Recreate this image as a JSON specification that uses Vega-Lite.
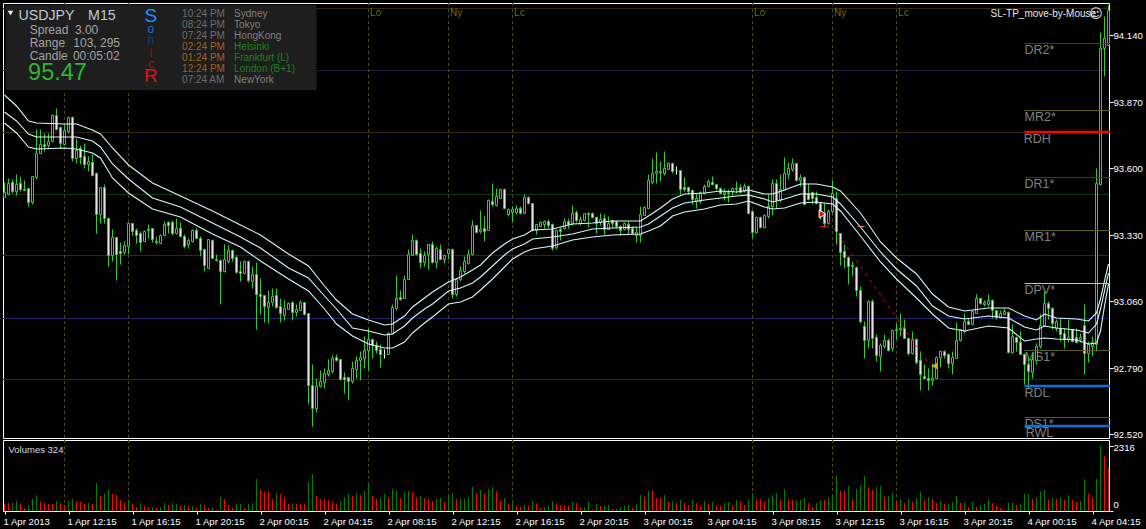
{
"$schema":"https://vega.github.io/schema/vega-lite/v6.json",
"background":"#000000",
"padding":{"left":1,"top":2,"right":1,"bottom":2},
"spacing":2,
"bounds":"flush",
"config":{"view":{"stroke":"#ffffff","strokeWidth":1,"fill":"#000000"},"axis":{"grid":false,"title":null,"domain":false,"tickColor":"#ffffff","labelColor":"#ffffff","labelFont":"Liberation Sans","labelFontSize":9.6}},
"datasets":{
"bars":[
{"i":0,"o":93.482,"h":93.543,"l":93.482,"c":93.503,"v":285,"d":"r"},
{"i":1,"o":93.494,"h":93.559,"l":93.490,"c":93.539,"v":285,"d":"r"},
{"i":2,"o":93.543,"h":93.555,"l":93.498,"c":93.507,"v":285,"d":"g"},
{"i":3,"o":93.507,"h":93.576,"l":93.490,"c":93.535,"v":356,"d":"g"},
{"i":4,"o":93.539,"h":93.567,"l":93.507,"c":93.515,"v":249,"d":"r"},
{"i":5,"o":93.515,"h":93.551,"l":93.511,"c":93.511,"v":107,"d":"r"},
{"i":6,"o":93.519,"h":93.519,"l":93.446,"c":93.462,"v":214,"d":"g"},
{"i":7,"o":93.462,"h":93.567,"l":93.454,"c":93.567,"v":427,"d":"g"},
{"i":8,"o":93.563,"h":93.758,"l":93.555,"c":93.661,"v":570,"d":"g"},
{"i":9,"o":93.661,"h":93.758,"l":93.661,"c":93.697,"v":356,"d":"r"},
{"i":10,"o":93.697,"h":93.742,"l":93.669,"c":93.689,"v":285,"d":"r"},
{"i":11,"o":93.693,"h":93.742,"l":93.677,"c":93.710,"v":249,"d":"r"},
{"i":12,"o":93.710,"h":93.819,"l":93.706,"c":93.815,"v":249,"d":"r"},
{"i":13,"o":93.815,"h":93.844,"l":93.754,"c":93.758,"v":356,"d":"g"},
{"i":14,"o":93.766,"h":93.770,"l":93.681,"c":93.701,"v":285,"d":"r"},
{"i":15,"o":93.697,"h":93.779,"l":93.693,"c":93.754,"v":214,"d":"r"},
{"i":16,"o":93.750,"h":93.811,"l":93.742,"c":93.807,"v":356,"d":"g"},
{"i":17,"o":93.807,"h":93.811,"l":93.628,"c":93.641,"v":427,"d":"g"},
{"i":18,"o":93.641,"h":93.722,"l":93.620,"c":93.673,"v":356,"d":"r"},
{"i":19,"o":93.681,"h":93.693,"l":93.616,"c":93.645,"v":320,"d":"r"},
{"i":20,"o":93.649,"h":93.701,"l":93.600,"c":93.616,"v":249,"d":"r"},
{"i":21,"o":93.616,"h":93.649,"l":93.588,"c":93.628,"v":285,"d":"g"},
{"i":22,"o":93.624,"h":93.657,"l":93.567,"c":93.571,"v":249,"d":"r"},
{"i":23,"o":93.580,"h":93.584,"l":93.336,"c":93.413,"v":997,"d":"g"},
{"i":24,"o":93.413,"h":93.523,"l":93.377,"c":93.523,"v":534,"d":"r"},
{"i":25,"o":93.523,"h":93.535,"l":93.377,"c":93.397,"v":605,"d":"g"},
{"i":26,"o":93.397,"h":93.401,"l":93.202,"c":93.247,"v":748,"d":"g"},
{"i":27,"o":93.247,"h":93.352,"l":93.222,"c":93.320,"v":605,"d":"r"},
{"i":28,"o":93.320,"h":93.320,"l":93.145,"c":93.251,"v":570,"d":"r"},
{"i":29,"o":93.263,"h":93.300,"l":93.210,"c":93.255,"v":392,"d":"r"},
{"i":30,"o":93.259,"h":93.304,"l":93.251,"c":93.287,"v":285,"d":"r"},
{"i":31,"o":93.283,"h":93.381,"l":93.251,"c":93.377,"v":392,"d":"g"},
{"i":32,"o":93.377,"h":93.377,"l":93.328,"c":93.344,"v":249,"d":"r"},
{"i":33,"o":93.348,"h":93.356,"l":93.296,"c":93.328,"v":142,"d":"r"},
{"i":34,"o":93.336,"h":93.344,"l":93.263,"c":93.300,"v":285,"d":"g"},
{"i":35,"o":93.304,"h":93.348,"l":93.304,"c":93.344,"v":178,"d":"r"},
{"i":36,"o":93.352,"h":93.373,"l":93.316,"c":93.348,"v":142,"d":"r"},
{"i":37,"o":93.356,"h":93.356,"l":93.300,"c":93.312,"v":142,"d":"g"},
{"i":38,"o":93.304,"h":93.324,"l":93.291,"c":93.300,"v":107,"d":"r"},
{"i":39,"o":93.296,"h":93.332,"l":93.296,"c":93.328,"v":142,"d":"g"},
{"i":40,"o":93.328,"h":93.385,"l":93.324,"c":93.373,"v":285,"d":"g"},
{"i":41,"o":93.381,"h":93.385,"l":93.336,"c":93.369,"v":214,"d":"r"},
{"i":42,"o":93.381,"h":93.389,"l":93.328,"c":93.336,"v":285,"d":"g"},
{"i":43,"o":93.336,"h":93.397,"l":93.332,"c":93.356,"v":249,"d":"g"},
{"i":44,"o":93.356,"h":93.381,"l":93.320,"c":93.324,"v":178,"d":"r"},
{"i":45,"o":93.324,"h":93.332,"l":93.275,"c":93.283,"v":214,"d":"g"},
{"i":46,"o":93.291,"h":93.316,"l":93.275,"c":93.308,"v":178,"d":"r"},
{"i":47,"o":93.304,"h":93.352,"l":93.300,"c":93.348,"v":178,"d":"g"},
{"i":48,"o":93.348,"h":93.356,"l":93.316,"c":93.316,"v":107,"d":"r"},
{"i":49,"o":93.316,"h":93.324,"l":93.243,"c":93.267,"v":249,"d":"g"},
{"i":50,"o":93.271,"h":93.275,"l":93.182,"c":93.206,"v":214,"d":"r"},
{"i":51,"o":93.194,"h":93.312,"l":93.194,"c":93.312,"v":107,"d":"r"},
{"i":52,"o":93.308,"h":93.312,"l":93.235,"c":93.235,"v":142,"d":"g"},
{"i":53,"o":93.231,"h":93.251,"l":93.222,"c":93.226,"v":36,"d":"r"},
{"i":54,"o":93.226,"h":93.231,"l":93.048,"c":93.182,"v":498,"d":"g"},
{"i":55,"o":93.182,"h":93.291,"l":93.178,"c":93.231,"v":427,"d":"r"},
{"i":56,"o":93.222,"h":93.287,"l":93.214,"c":93.267,"v":214,"d":"r"},
{"i":57,"o":93.267,"h":93.271,"l":93.222,"c":93.235,"v":107,"d":"r"},
{"i":58,"o":93.239,"h":93.247,"l":93.174,"c":93.178,"v":249,"d":"g"},
{"i":59,"o":93.182,"h":93.222,"l":93.141,"c":93.174,"v":249,"d":"g"},
{"i":60,"o":93.174,"h":93.226,"l":93.170,"c":93.222,"v":107,"d":"r"},
{"i":61,"o":93.222,"h":93.226,"l":93.137,"c":93.145,"v":249,"d":"g"},
{"i":62,"o":93.141,"h":93.202,"l":93.113,"c":93.170,"v":285,"d":"g"},
{"i":63,"o":93.170,"h":93.218,"l":92.946,"c":93.088,"v":1139,"d":"g"},
{"i":64,"o":93.088,"h":93.153,"l":93.007,"c":93.080,"v":748,"d":"r"},
{"i":65,"o":93.084,"h":93.084,"l":92.975,"c":93.040,"v":676,"d":"r"},
{"i":66,"o":93.036,"h":93.105,"l":92.971,"c":93.056,"v":712,"d":"r"},
{"i":67,"o":93.056,"h":93.113,"l":93.040,"c":93.080,"v":427,"d":"r"},
{"i":68,"o":93.084,"h":93.113,"l":93.032,"c":93.036,"v":641,"d":"g"},
{"i":69,"o":93.040,"h":93.072,"l":92.975,"c":93.011,"v":605,"d":"r"},
{"i":70,"o":93.003,"h":93.064,"l":92.983,"c":93.032,"v":498,"d":"r"},
{"i":71,"o":93.028,"h":93.056,"l":93.028,"c":93.052,"v":249,"d":"r"},
{"i":72,"o":93.056,"h":93.060,"l":92.983,"c":93.015,"v":285,"d":"g"},
{"i":73,"o":93.015,"h":93.048,"l":92.999,"c":93.028,"v":249,"d":"r"},
{"i":74,"o":93.023,"h":93.064,"l":93.023,"c":93.056,"v":249,"d":"r"},
{"i":75,"o":93.056,"h":93.056,"l":93.003,"c":93.007,"v":249,"d":"r"},
{"i":76,"o":93.011,"h":93.011,"l":92.642,"c":92.719,"v":1032,"d":"g"},
{"i":77,"o":92.719,"h":92.804,"l":92.553,"c":92.626,"v":1317,"d":"g"},
{"i":78,"o":92.626,"h":92.747,"l":92.609,"c":92.715,"v":534,"d":"r"},
{"i":79,"o":92.715,"h":92.780,"l":92.711,"c":92.735,"v":427,"d":"r"},
{"i":80,"o":92.731,"h":92.788,"l":92.707,"c":92.768,"v":427,"d":"r"},
{"i":81,"o":92.764,"h":92.825,"l":92.755,"c":92.780,"v":392,"d":"r"},
{"i":82,"o":92.776,"h":92.841,"l":92.768,"c":92.829,"v":356,"d":"r"},
{"i":83,"o":92.833,"h":92.845,"l":92.816,"c":92.820,"v":249,"d":"r"},
{"i":84,"o":92.825,"h":92.825,"l":92.739,"c":92.743,"v":356,"d":"g"},
{"i":85,"o":92.751,"h":92.772,"l":92.686,"c":92.743,"v":498,"d":"g"},
{"i":86,"o":92.751,"h":92.751,"l":92.658,"c":92.735,"v":605,"d":"g"},
{"i":87,"o":92.735,"h":92.816,"l":92.727,"c":92.788,"v":534,"d":"r"},
{"i":88,"o":92.784,"h":92.837,"l":92.747,"c":92.820,"v":641,"d":"g"},
{"i":89,"o":92.820,"h":92.857,"l":92.739,"c":92.833,"v":570,"d":"r"},
{"i":90,"o":92.829,"h":92.918,"l":92.788,"c":92.861,"v":712,"d":"g"},
{"i":91,"o":92.861,"h":92.950,"l":92.780,"c":92.906,"v":997,"d":"g"},
{"i":92,"o":92.906,"h":92.910,"l":92.829,"c":92.881,"v":534,"d":"r"},
{"i":93,"o":92.881,"h":92.898,"l":92.849,"c":92.861,"v":427,"d":"r"},
{"i":94,"o":92.865,"h":92.885,"l":92.792,"c":92.845,"v":498,"d":"g"},
{"i":95,"o":92.845,"h":92.865,"l":92.829,"c":92.845,"v":605,"d":"g"},
{"i":96,"o":92.845,"h":92.934,"l":92.845,"c":92.930,"v":463,"d":"r"},
{"i":97,"o":92.930,"h":93.048,"l":92.926,"c":93.036,"v":783,"d":"g"},
{"i":98,"o":93.032,"h":93.166,"l":93.023,"c":93.072,"v":712,"d":"g"},
{"i":99,"o":93.076,"h":93.105,"l":93.064,"c":93.068,"v":463,"d":"r"},
{"i":100,"o":93.072,"h":93.166,"l":93.072,"c":93.149,"v":676,"d":"g"},
{"i":101,"o":93.149,"h":93.271,"l":93.149,"c":93.251,"v":712,"d":"g"},
{"i":102,"o":93.247,"h":93.332,"l":93.247,"c":93.308,"v":676,"d":"r"},
{"i":103,"o":93.308,"h":93.312,"l":93.247,"c":93.251,"v":498,"d":"r"},
{"i":104,"o":93.255,"h":93.275,"l":93.194,"c":93.218,"v":534,"d":"g"},
{"i":105,"o":93.218,"h":93.263,"l":93.202,"c":93.247,"v":463,"d":"r"},
{"i":106,"o":93.251,"h":93.291,"l":93.190,"c":93.291,"v":427,"d":"r"},
{"i":107,"o":93.291,"h":93.304,"l":93.214,"c":93.218,"v":356,"d":"r"},
{"i":108,"o":93.218,"h":93.283,"l":93.194,"c":93.275,"v":427,"d":"g"},
{"i":109,"o":93.271,"h":93.291,"l":93.231,"c":93.231,"v":463,"d":"g"},
{"i":110,"o":93.231,"h":93.251,"l":93.214,"c":93.247,"v":320,"d":"r"},
{"i":111,"o":93.255,"h":93.275,"l":93.231,"c":93.271,"v":534,"d":"g"},
{"i":112,"o":93.271,"h":93.275,"l":93.072,"c":93.088,"v":641,"d":"g"},
{"i":113,"o":93.088,"h":93.149,"l":93.080,"c":93.149,"v":427,"d":"r"},
{"i":114,"o":93.149,"h":93.202,"l":93.141,"c":93.186,"v":427,"d":"g"},
{"i":115,"o":93.182,"h":93.243,"l":93.174,"c":93.222,"v":427,"d":"g"},
{"i":116,"o":93.214,"h":93.271,"l":93.210,"c":93.251,"v":498,"d":"g"},
{"i":117,"o":93.251,"h":93.389,"l":93.247,"c":93.369,"v":854,"d":"g"},
{"i":118,"o":93.369,"h":93.369,"l":93.336,"c":93.340,"v":641,"d":"r"},
{"i":119,"o":93.344,"h":93.429,"l":93.336,"c":93.352,"v":748,"d":"g"},
{"i":120,"o":93.356,"h":93.405,"l":93.304,"c":93.344,"v":605,"d":"r"},
{"i":121,"o":93.348,"h":93.474,"l":93.348,"c":93.470,"v":783,"d":"g"},
{"i":122,"o":93.466,"h":93.539,"l":93.446,"c":93.454,"v":854,"d":"g"},
{"i":123,"o":93.450,"h":93.519,"l":93.446,"c":93.486,"v":712,"d":"r"},
{"i":124,"o":93.478,"h":93.519,"l":93.478,"c":93.515,"v":392,"d":"r"},
{"i":125,"o":93.515,"h":93.519,"l":93.433,"c":93.438,"v":463,"d":"g"},
{"i":126,"o":93.413,"h":93.438,"l":93.405,"c":93.433,"v":249,"d":"r"},
{"i":127,"o":93.421,"h":93.446,"l":93.381,"c":93.433,"v":356,"d":"g"},
{"i":128,"o":93.421,"h":93.450,"l":93.413,"c":93.438,"v":178,"d":"r"},
{"i":129,"o":93.438,"h":93.446,"l":93.413,"c":93.417,"v":142,"d":"r"},
{"i":130,"o":93.417,"h":93.494,"l":93.417,"c":93.482,"v":214,"d":"g"},
{"i":131,"o":93.482,"h":93.486,"l":93.454,"c":93.458,"v":178,"d":"r"},
{"i":132,"o":93.458,"h":93.458,"l":93.344,"c":93.348,"v":356,"d":"g"},
{"i":133,"o":93.348,"h":93.373,"l":93.332,"c":93.373,"v":249,"d":"r"},
{"i":134,"o":93.365,"h":93.385,"l":93.360,"c":93.381,"v":107,"d":"r"},
{"i":135,"o":93.373,"h":93.389,"l":93.356,"c":93.385,"v":142,"d":"g"},
{"i":136,"o":93.385,"h":93.393,"l":93.356,"c":93.369,"v":178,"d":"g"},
{"i":137,"o":93.373,"h":93.377,"l":93.267,"c":93.275,"v":356,"d":"g"},
{"i":138,"o":93.279,"h":93.352,"l":93.271,"c":93.348,"v":249,"d":"r"},
{"i":139,"o":93.352,"h":93.360,"l":93.308,"c":93.344,"v":214,"d":"r"},
{"i":140,"o":93.356,"h":93.397,"l":93.352,"c":93.385,"v":178,"d":"r"},
{"i":141,"o":93.385,"h":93.397,"l":93.356,"c":93.373,"v":178,"d":"r"},
{"i":142,"o":93.377,"h":93.450,"l":93.369,"c":93.417,"v":320,"d":"g"},
{"i":143,"o":93.421,"h":93.429,"l":93.381,"c":93.389,"v":285,"d":"r"},
{"i":144,"o":93.377,"h":93.405,"l":93.369,"c":93.393,"v":142,"d":"r"},
{"i":145,"o":93.389,"h":93.417,"l":93.385,"c":93.417,"v":142,"d":"g"},
{"i":146,"o":93.417,"h":93.421,"l":93.360,"c":93.413,"v":320,"d":"g"},
{"i":147,"o":93.417,"h":93.421,"l":93.397,"c":93.401,"v":36,"d":"r"},
{"i":148,"o":93.401,"h":93.405,"l":93.336,"c":93.377,"v":249,"d":"g"},
{"i":149,"o":93.381,"h":93.417,"l":93.369,"c":93.393,"v":178,"d":"r"},
{"i":150,"o":93.397,"h":93.413,"l":93.332,"c":93.352,"v":178,"d":"g"},
{"i":151,"o":93.352,"h":93.405,"l":93.352,"c":93.377,"v":214,"d":"g"},
{"i":152,"o":93.389,"h":93.393,"l":93.360,"c":93.377,"v":71,"d":"r"},
{"i":153,"o":93.385,"h":93.389,"l":93.356,"c":93.365,"v":71,"d":"g"},
{"i":154,"o":93.365,"h":93.369,"l":93.328,"c":93.348,"v":142,"d":"g"},
{"i":155,"o":93.352,"h":93.381,"l":93.348,"c":93.377,"v":178,"d":"g"},
{"i":156,"o":93.373,"h":93.385,"l":93.332,"c":93.352,"v":214,"d":"g"},
{"i":157,"o":93.356,"h":93.365,"l":93.332,"c":93.336,"v":107,"d":"r"},
{"i":158,"o":93.328,"h":93.360,"l":93.300,"c":93.340,"v":249,"d":"g"},
{"i":159,"o":93.328,"h":93.446,"l":93.300,"c":93.413,"v":570,"d":"g"},
{"i":160,"o":93.409,"h":93.446,"l":93.409,"c":93.442,"v":498,"d":"r"},
{"i":161,"o":93.438,"h":93.576,"l":93.438,"c":93.551,"v":712,"d":"g"},
{"i":162,"o":93.543,"h":93.641,"l":93.535,"c":93.580,"v":712,"d":"r"},
{"i":163,"o":93.580,"h":93.665,"l":93.539,"c":93.588,"v":463,"d":"r"},
{"i":164,"o":93.584,"h":93.628,"l":93.547,"c":93.588,"v":463,"d":"r"},
{"i":165,"o":93.580,"h":93.669,"l":93.571,"c":93.600,"v":570,"d":"g"},
{"i":166,"o":93.596,"h":93.624,"l":93.596,"c":93.620,"v":320,"d":"r"},
{"i":167,"o":93.620,"h":93.624,"l":93.580,"c":93.588,"v":356,"d":"g"},
{"i":168,"o":93.590,"h":93.608,"l":93.576,"c":93.590,"v":285,"d":"r"},
{"i":169,"o":93.592,"h":93.592,"l":93.494,"c":93.515,"v":392,"d":"g"},
{"i":170,"o":93.523,"h":93.563,"l":93.507,"c":93.515,"v":285,"d":"r"},
{"i":171,"o":93.523,"h":93.527,"l":93.494,"c":93.507,"v":214,"d":"r"},
{"i":172,"o":93.511,"h":93.515,"l":93.454,"c":93.474,"v":392,"d":"g"},
{"i":173,"o":93.466,"h":93.498,"l":93.438,"c":93.478,"v":285,"d":"r"},
{"i":174,"o":93.466,"h":93.507,"l":93.458,"c":93.503,"v":178,"d":"r"},
{"i":175,"o":93.498,"h":93.535,"l":93.494,"c":93.527,"v":356,"d":"g"},
{"i":176,"o":93.527,"h":93.555,"l":93.523,"c":93.547,"v":249,"d":"r"},
{"i":177,"o":93.543,"h":93.567,"l":93.531,"c":93.535,"v":320,"d":"g"},
{"i":178,"o":93.535,"h":93.535,"l":93.511,"c":93.519,"v":178,"d":"r"},
{"i":179,"o":93.519,"h":93.523,"l":93.494,"c":93.498,"v":178,"d":"r"},
{"i":180,"o":93.494,"h":93.519,"l":93.470,"c":93.503,"v":285,"d":"g"},
{"i":181,"o":93.498,"h":93.515,"l":93.462,"c":93.503,"v":320,"d":"g"},
{"i":182,"o":93.507,"h":93.523,"l":93.486,"c":93.519,"v":178,"d":"r"},
{"i":183,"o":93.515,"h":93.547,"l":93.498,"c":93.519,"v":392,"d":"g"},
{"i":184,"o":93.523,"h":93.535,"l":93.498,"c":93.503,"v":356,"d":"r"},
{"i":185,"o":93.507,"h":93.539,"l":93.503,"c":93.527,"v":214,"d":"r"},
{"i":186,"o":93.527,"h":93.531,"l":93.413,"c":93.417,"v":392,"d":"g"},
{"i":187,"o":93.425,"h":93.429,"l":93.316,"c":93.340,"v":641,"d":"g"},
{"i":188,"o":93.340,"h":93.405,"l":93.336,"c":93.401,"v":427,"d":"r"},
{"i":189,"o":93.401,"h":93.405,"l":93.356,"c":93.360,"v":427,"d":"r"},
{"i":190,"o":93.360,"h":93.413,"l":93.356,"c":93.409,"v":320,"d":"r"},
{"i":191,"o":93.405,"h":93.494,"l":93.397,"c":93.446,"v":463,"d":"g"},
{"i":192,"o":93.446,"h":93.555,"l":93.409,"c":93.539,"v":570,"d":"g"},
{"i":193,"o":93.539,"h":93.555,"l":93.438,"c":93.470,"v":641,"d":"g"},
{"i":194,"o":93.470,"h":93.576,"l":93.462,"c":93.515,"v":392,"d":"r"},
{"i":195,"o":93.515,"h":93.645,"l":93.511,"c":93.580,"v":783,"d":"g"},
{"i":196,"o":93.576,"h":93.624,"l":93.555,"c":93.600,"v":427,"d":"r"},
{"i":197,"o":93.596,"h":93.641,"l":93.588,"c":93.620,"v":392,"d":"r"},
{"i":198,"o":93.620,"h":93.620,"l":93.547,"c":93.551,"v":392,"d":"g"},
{"i":199,"o":93.551,"h":93.576,"l":93.527,"c":93.563,"v":392,"d":"g"},
{"i":200,"o":93.563,"h":93.567,"l":93.450,"c":93.454,"v":463,"d":"g"},
{"i":201,"o":93.498,"h":93.539,"l":93.470,"c":93.474,"v":285,"d":"r"},
{"i":202,"o":93.503,"h":93.507,"l":93.454,"c":93.478,"v":142,"d":"r"},
{"i":203,"o":93.482,"h":93.507,"l":93.454,"c":93.458,"v":285,"d":"g"},
{"i":204,"o":93.458,"h":93.462,"l":93.393,"c":93.413,"v":392,"d":"g"},
{"i":205,"o":93.413,"h":93.458,"l":93.360,"c":93.377,"v":392,"d":"r"},
{"i":206,"o":93.377,"h":93.433,"l":93.373,"c":93.425,"v":498,"d":"g"},
{"i":207,"o":93.425,"h":93.551,"l":93.417,"c":93.498,"v":570,"d":"g"},
{"i":208,"o":93.478,"h":93.507,"l":93.291,"c":93.344,"v":1282,"d":"g"},
{"i":209,"o":93.336,"h":93.336,"l":93.206,"c":93.259,"v":712,"d":"r"},
{"i":210,"o":93.263,"h":93.291,"l":93.194,"c":93.239,"v":712,"d":"r"},
{"i":211,"o":93.239,"h":93.243,"l":93.129,"c":93.202,"v":890,"d":"g"},
{"i":212,"o":93.206,"h":93.222,"l":93.161,"c":93.202,"v":427,"d":"r"},
{"i":213,"o":93.198,"h":93.202,"l":93.080,"c":93.105,"v":783,"d":"g"},
{"i":214,"o":93.105,"h":93.121,"l":92.971,"c":92.979,"v":890,"d":"g"},
{"i":215,"o":92.958,"h":92.979,"l":92.829,"c":92.902,"v":1246,"d":"g"},
{"i":216,"o":92.902,"h":93.064,"l":92.869,"c":93.060,"v":854,"d":"r"},
{"i":217,"o":93.060,"h":93.068,"l":92.869,"c":92.910,"v":748,"d":"r"},
{"i":218,"o":92.914,"h":92.926,"l":92.816,"c":92.841,"v":854,"d":"g"},
{"i":219,"o":92.837,"h":92.890,"l":92.776,"c":92.881,"v":890,"d":"g"},
{"i":220,"o":92.877,"h":92.926,"l":92.869,"c":92.902,"v":498,"d":"r"},
{"i":221,"o":92.902,"h":92.910,"l":92.857,"c":92.861,"v":534,"d":"g"},
{"i":222,"o":92.869,"h":92.946,"l":92.857,"c":92.942,"v":641,"d":"g"},
{"i":223,"o":92.946,"h":92.971,"l":92.906,"c":92.942,"v":356,"d":"r"},
{"i":224,"o":92.946,"h":93.011,"l":92.918,"c":92.950,"v":427,"d":"g"},
{"i":225,"o":92.950,"h":92.987,"l":92.910,"c":92.910,"v":285,"d":"r"},
{"i":226,"o":92.910,"h":92.914,"l":92.841,"c":92.849,"v":427,"d":"g"},
{"i":227,"o":92.849,"h":92.938,"l":92.845,"c":92.906,"v":320,"d":"r"},
{"i":228,"o":92.906,"h":92.910,"l":92.804,"c":92.812,"v":463,"d":"g"},
{"i":229,"o":92.820,"h":92.857,"l":92.699,"c":92.764,"v":676,"d":"g"},
{"i":230,"o":92.755,"h":92.804,"l":92.743,"c":92.747,"v":392,"d":"r"},
{"i":231,"o":92.747,"h":92.788,"l":92.699,"c":92.739,"v":498,"d":"g"},
{"i":232,"o":92.739,"h":92.808,"l":92.719,"c":92.747,"v":427,"d":"r"},
{"i":233,"o":92.747,"h":92.837,"l":92.747,"c":92.833,"v":285,"d":"r"},
{"i":234,"o":92.833,"h":92.861,"l":92.792,"c":92.857,"v":356,"d":"g"},
{"i":235,"o":92.857,"h":92.861,"l":92.829,"c":92.841,"v":249,"d":"r"},
{"i":236,"o":92.845,"h":92.849,"l":92.788,"c":92.808,"v":249,"d":"g"},
{"i":237,"o":92.808,"h":92.857,"l":92.764,"c":92.833,"v":320,"d":"g"},
{"i":238,"o":92.829,"h":92.975,"l":92.829,"c":92.902,"v":534,"d":"g"},
{"i":239,"o":92.902,"h":92.946,"l":92.898,"c":92.946,"v":285,"d":"r"},
{"i":240,"o":92.938,"h":93.011,"l":92.930,"c":92.979,"v":285,"d":"g"},
{"i":241,"o":92.979,"h":92.991,"l":92.967,"c":92.967,"v":142,"d":"r"},
{"i":242,"o":92.967,"h":93.023,"l":92.963,"c":93.019,"v":320,"d":"g"},
{"i":243,"o":93.011,"h":93.088,"l":93.011,"c":93.072,"v":142,"d":"r"},
{"i":244,"o":93.072,"h":93.072,"l":93.048,"c":93.052,"v":214,"d":"g"},
{"i":245,"o":93.048,"h":93.064,"l":93.040,"c":93.056,"v":249,"d":"g"},
{"i":246,"o":93.048,"h":93.088,"l":93.040,"c":93.064,"v":427,"d":"g"},
{"i":247,"o":93.064,"h":93.068,"l":92.991,"c":93.023,"v":285,"d":"r"},
{"i":248,"o":93.023,"h":93.023,"l":92.987,"c":92.995,"v":178,"d":"r"},
{"i":249,"o":92.995,"h":93.023,"l":92.991,"c":93.011,"v":107,"d":"r"},
{"i":250,"o":93.007,"h":93.032,"l":93.003,"c":93.019,"v":36,"d":"r"},
{"i":251,"o":93.015,"h":93.019,"l":92.849,"c":92.853,"v":285,"d":"g"},
{"i":252,"o":92.853,"h":92.967,"l":92.849,"c":92.918,"v":285,"d":"g"},
{"i":253,"o":92.914,"h":92.918,"l":92.857,"c":92.894,"v":214,"d":"r"},
{"i":254,"o":92.894,"h":92.938,"l":92.845,"c":92.845,"v":249,"d":"g"},
{"i":255,"o":92.845,"h":92.849,"l":92.723,"c":92.804,"v":605,"d":"g"},
{"i":256,"o":92.804,"h":92.837,"l":92.707,"c":92.776,"v":605,"d":"g"},
{"i":257,"o":92.772,"h":92.849,"l":92.747,"c":92.825,"v":427,"d":"r"},
{"i":258,"o":92.820,"h":92.890,"l":92.804,"c":92.877,"v":498,"d":"g"},
{"i":259,"o":92.877,"h":93.007,"l":92.869,"c":92.963,"v":676,"d":"g"},
{"i":260,"o":92.963,"h":93.101,"l":92.958,"c":93.052,"v":748,"d":"g"},
{"i":261,"o":93.052,"h":93.060,"l":92.987,"c":93.032,"v":392,"d":"r"},
{"i":262,"o":93.032,"h":93.036,"l":92.946,"c":92.971,"v":463,"d":"g"},
{"i":263,"o":92.950,"h":92.987,"l":92.938,"c":92.979,"v":427,"d":"r"},
{"i":264,"o":92.950,"h":92.991,"l":92.898,"c":92.926,"v":498,"d":"g"},
{"i":265,"o":92.930,"h":92.950,"l":92.869,"c":92.906,"v":392,"d":"r"},
{"i":266,"o":92.906,"h":92.987,"l":92.894,"c":92.914,"v":570,"d":"g"},
{"i":267,"o":92.946,"h":92.946,"l":92.894,"c":92.898,"v":392,"d":"r"},
{"i":268,"o":92.914,"h":92.950,"l":92.890,"c":92.894,"v":320,"d":"r"},
{"i":269,"o":92.906,"h":92.930,"l":92.894,"c":92.914,"v":356,"d":"g"},
{"i":270,"o":92.963,"h":93.048,"l":92.764,"c":92.849,"v":1139,"d":"g"},
{"i":271,"o":92.849,"h":92.898,"l":92.812,"c":92.885,"v":605,"d":"r"},
{"i":272,"o":92.877,"h":92.918,"l":92.837,"c":92.894,"v":463,"d":"r"},
{"i":273,"o":92.885,"h":93.600,"l":92.857,"c":93.539,"v":1139,"d":"g"},
{"i":274,"o":93.535,"h":94.152,"l":93.531,"c":94.087,"v":2316,"d":"g"},
{"i":275,"o":94.087,"h":94.217,"l":93.974,"c":94.128,"v":1958,"d":"r"},
{"i":276,"o":94.099,"h":94.262,"l":94.099,"c":94.241,"v":1531,"d":"r"}
],
"bands":[
{"i":0,"u":93.896,"m":93.827,"w":93.783},{"i":3,"u":93.852,"m":93.791,"w":93.742},{"i":6,"u":93.791,"m":93.738,"w":93.685},{"i":8,"u":93.783,"m":93.726,"w":93.677},{"i":15,"u":93.779,"m":93.726,"w":93.681},{"i":18,"u":93.779,"m":93.726,"w":93.677},{"i":22,"u":93.754,"m":93.710,"w":93.661},{"i":24,"u":93.738,"m":93.685,"w":93.641},{"i":27,"u":93.681,"m":93.616,"w":93.559},{"i":31,"u":93.612,"m":93.555,"w":93.498},{"i":37,"u":93.539,"m":93.478,"w":93.433},{"i":44,"u":93.486,"m":93.442,"w":93.401},{"i":52,"u":93.425,"m":93.377,"w":93.332},{"i":59,"u":93.369,"m":93.320,"w":93.279},{"i":64,"u":93.328,"m":93.275,"w":93.222},{"i":71,"u":93.251,"m":93.194,"w":93.149},{"i":76,"u":93.202,"m":93.153,"w":93.101},{"i":80,"u":93.121,"m":93.080,"w":93.028},{"i":83,"u":93.064,"m":93.028,"w":92.967},{"i":87,"u":93.007,"m":92.950,"w":92.918},{"i":91,"u":92.983,"m":92.938,"w":92.885},{"i":95,"u":92.963,"m":92.922,"w":92.869},{"i":97,"u":92.967,"m":92.926,"w":92.869},{"i":100,"u":92.999,"m":92.958,"w":92.894},{"i":102,"u":93.036,"m":92.991,"w":92.930},{"i":105,"u":93.072,"m":93.028,"w":92.971},{"i":107,"u":93.097,"m":93.048,"w":92.995},{"i":111,"u":93.137,"m":93.101,"w":93.048},{"i":114,"u":93.157,"m":93.113,"w":93.056},{"i":117,"u":93.186,"m":93.133,"w":93.076},{"i":119,"u":93.206,"m":93.157,"w":93.105},{"i":122,"u":93.255,"m":93.202,"w":93.149},{"i":125,"u":93.291,"m":93.247,"w":93.198},{"i":127,"u":93.312,"m":93.271,"w":93.231},{"i":130,"u":93.328,"m":93.291,"w":93.259},{"i":132,"u":93.348,"m":93.312,"w":93.271},{"i":137,"u":93.352,"m":93.320,"w":93.283},{"i":142,"u":93.373,"m":93.332,"w":93.308},{"i":147,"u":93.377,"m":93.352,"w":93.320},{"i":152,"u":93.385,"m":93.356,"w":93.328},{"i":159,"u":93.385,"m":93.360,"w":93.332},{"i":161,"u":93.405,"m":93.373,"w":93.344},{"i":164,"u":93.438,"m":93.405,"w":93.365},{"i":167,"u":93.474,"m":93.438,"w":93.405},{"i":170,"u":93.494,"m":93.458,"w":93.421},{"i":175,"u":93.498,"m":93.470,"w":93.433},{"i":179,"u":93.507,"m":93.478,"w":93.450},{"i":183,"u":93.503,"m":93.486,"w":93.454},{"i":186,"u":93.511,"m":93.490,"w":93.466},{"i":190,"u":93.494,"m":93.474,"w":93.442},{"i":192,"u":93.494,"m":93.462,"w":93.433},{"i":195,"u":93.511,"m":93.474,"w":93.438},{"i":199,"u":93.535,"m":93.494,"w":93.458},{"i":203,"u":93.535,"m":93.494,"w":93.462},{"i":207,"u":93.523,"m":93.482,"w":93.454},{"i":209,"u":93.507,"m":93.454,"w":93.425},{"i":214,"u":93.417,"m":93.360,"w":93.324},{"i":219,"u":93.300,"m":93.259,"w":93.218},{"i":223,"u":93.235,"m":93.190,"w":93.149},{"i":228,"u":93.170,"m":93.121,"w":93.072},{"i":232,"u":93.088,"m":93.040,"w":93.007},{"i":236,"u":93.036,"m":92.999,"w":92.950},{"i":240,"u":93.019,"m":92.987,"w":92.938},{"i":246,"u":93.032,"m":92.999,"w":92.958},{"i":251,"u":93.032,"m":92.991,"w":92.950},{"i":255,"u":92.999,"m":92.954,"w":92.898},{"i":258,"u":92.983,"m":92.942,"w":92.906},{"i":260,"u":93.007,"m":92.958,"w":92.910},{"i":263,"u":92.991,"m":92.950,"w":92.906},{"i":268,"u":92.987,"m":92.942,"w":92.902},{"i":271,"u":92.979,"m":92.930,"w":92.885},{"i":273,"u":93.011,"m":92.967,"w":92.889},{"i":274,"u":93.068,"m":93.028,"w":92.938},{"i":275,"u":93.141,"m":93.101,"w":93.040},{"i":276,"u":93.210,"m":93.174,"w":93.129}
],
"sessions":[{"i":15},{"i":31},{"i":91},{"i":111},{"i":127},{"i":187},{"i":207},{"i":223}],
"grid":[{"p":94.250,"k":"a"},{"p":93.998,"k":"b"},{"p":93.746,"k":"a"},{"p":93.496,"k":"c"},{"p":93.247,"k":"a"},{"p":92.993,"k":"d"},{"p":92.745,"k":"e"}],
"thin":[{"a":255,"b":276.4,"p":94.107,"k":"DR"},{"a":255,"b":276.4,"p":93.835,"k":"MR"},{"a":255,"b":276.4,"p":93.563,"k":"DR"},{"a":255,"b":276.4,"p":93.348,"k":"MR"},{"a":255,"b":276.4,"p":93.133,"k":"DPV"},{"a":255,"b":276.4,"p":92.861,"k":"MR"},{"a":255,"b":276.4,"p":92.589,"k":"DS"}],
"thick":[{"a":255,"b":276.4,"p":93.746,"k":"H"},{"a":255,"b":276.4,"p":92.715,"k":"L"},{"a":255,"b":276.4,"p":92.551,"k":"L"}],
"levelText":[{"i":255,"p":94.079,"t":"DR2*"},{"i":255,"p":93.807,"t":"MR2*"},{"i":254.8,"p":93.718,"t":"RDH"},{"i":255,"p":93.535,"t":"DR1*"},{"i":255,"p":93.320,"t":"MR1*"},{"i":255,"p":93.105,"t":"DPV*"},{"i":255,"p":92.833,"t":"MS1*"},{"i":255,"p":92.686,"t":"RDL"},{"i":255,"p":92.561,"t":"DS1*"},{"i":255.3,"p":92.524,"t":"RWL"}],
"sessionText":[{"i":91.4,"p":94.229,"t":"Lo"},{"i":111.4,"p":94.229,"t":"Ny"},{"i":127.4,"p":94.229,"t":"Lc"},{"i":187.4,"p":94.229,"t":"Lo"},{"i":207.4,"p":94.229,"t":"Ny"},{"i":223.4,"p":94.229,"t":"Lc"}],
"panel":[{"a":0.25,"b":78,"t":94.262,"w":93.917}],
"head":[{"i":3.5,"p":94.217,"t":"USDJPY"},{"i":20.9,"p":94.217,"t":"M15"}],
"info":[{"i":6.3,"p":94.160,"t":"Spread"},{"i":17.6,"p":94.160,"t":"3.00"},{"i":6.3,"p":94.107,"t":"Range"},{"i":17.2,"p":94.107,"t":"103, 295"},{"i":6.3,"p":94.055,"t":"Candle"},{"i":17.1,"p":94.055,"t":"00:05:02"}],
"sonicBig":[{"i":36.6,"p":94.217,"t":"S","k":"s"},{"i":36.6,"p":93.973,"t":"R","k":"r"}],
"sonicSmall":[{"i":36.6,"p":94.164,"t":"o","k":"o"},{"i":36.6,"p":94.120,"t":"n","k":"n"},{"i":36.6,"p":94.067,"t":"i","k":"i"},{"i":36.6,"p":94.022,"t":"c","k":"c"}],
"clocks":[{"i":44.4,"p":94.225,"t":"10:24 PM","k":"tg"},{"i":44.4,"p":94.181,"t":"08:24 PM","k":"tg"},{"i":44.4,"p":94.136,"t":"07:24 PM","k":"tg"},{"i":44.4,"p":94.091,"t":"02:24 PM","k":"to"},{"i":44.4,"p":94.047,"t":"01:24 PM","k":"to"},{"i":44.4,"p":94.002,"t":"12:24 PM","k":"to"},{"i":44.4,"p":93.957,"t":"07:24 AM","k":"tg"},{"i":57.4,"p":94.225,"t":"Sydney","k":"cg"},{"i":57.4,"p":94.181,"t":"Tokyo","k":"cg"},{"i":57.4,"p":94.136,"t":"HongKong","k":"cg"},{"i":57.4,"p":94.091,"t":"Helsinki","k":"cn"},{"i":57.4,"p":94.047,"t":"Frankfurt  (L)","k":"cn"},{"i":57.4,"p":94.002,"t":"London  (B+1)","k":"cn"},{"i":57.4,"p":93.957,"t":"NewYork","k":"cg"}],
"big":[{"i":5.9,"p":93.986,"t":"95.47"}],
"tri":[{"i":1.5,"p":94.229}],
"ea":[{"i":246.5,"p":94.225,"t":"SL-TP_move-by-Mouse"}],
"smile":[{"i":272.8,"p":94.225,"t":"☺"}],
"trade":[{"i":206,"p":93.385},{"i":231.5,"p":92.796}],
"open":[{"i":204.5,"p":93.413}],
"close":[{"i":232.5,"p":92.796}],
"dash":[{"a":204,"b":206,"p":93.365,"k":"sl"},{"a":213.25,"b":215,"p":93.365,"k":"tp"}],
"volTitle":[{"i":1,"v":2172,"t":"Volumes 324"}]
},
"vconcat":[
{"width":1106,"height":435,
"layer":[
{"data":{"name":"grid"},"mark":{"type":"rule","strokeWidth":1,"yOffset":0.5},"encoding":{"y":{"field":"p","type":"quantitative","scale":{"domain":[92.504,94.27],"zero":false,"nice":false,"round":true},"axis":{"orient":"right","values":[92.52,92.655,92.79,92.925,93.06,93.195,93.33,93.465,93.6,93.735,93.87,94.005,94.14],"format":".3f","tickSize":4,"labelPadding":0,"minExtent":38,"maxExtent":38,"labelOverlap":false,"labelBound":false}},"color":{"field":"k","type":"nominal","legend":null,"scale":{"domain":["a","b","c","d","e"],"range":["#36280f","#22223c","#0e380e","#25206a","#302818"]}}}},
{"data":{"name":"sessions"},"mark":{"type":"rule","color":"#4d4d00","strokeDash":[3,3],"strokeWidth":1},"encoding":{"x":{"field":"i","type":"quantitative","scale":{"domain":[-0.375,276.125],"zero":false,"nice":false,"padding":0},"axis":null}}},
{"data":{"name":"sessionText"},"mark":{"type":"text","align":"left","baseline":"middle","font":"Liberation Sans","fontSize":10,"color":"#6e6e00"},"encoding":{"x":{"field":"i","type":"quantitative"},"y":{"field":"p","type":"quantitative"},"text":{"field":"t"}}},
{"data":{"name":"levelText"},"mark":{"type":"text","align":"left","baseline":"middle","font":"Liberation Sans","fontSize":12.5,"color":"#808080"},"encoding":{"x":{"field":"i","type":"quantitative"},"y":{"field":"p","type":"quantitative"},"text":{"field":"t"}}},
{"data":{"name":"bars"},"mark":{"type":"rule","strokeWidth":1,"yOffset":0.5,"y2Offset":0.5},"encoding":{"x":{"field":"i","type":"quantitative"},"y":{"field":"h","type":"quantitative"},"y2":{"field":"l"},"color":{"condition":{"test":"datum.o==datum.c","value":"#ffffff"},"value":"#32cd32"}}},
{"data":{"name":"bars"},"mark":{"type":"bar","size":2,"stroke":"#32cd32","strokeWidth":1,"yOffset":0.5,"y2Offset":0.5},"encoding":{"x":{"field":"i","type":"quantitative"},"y":{"field":"o","type":"quantitative"},"y2":{"field":"c"},"fill":{"condition":{"test":"datum.c<datum.o","value":"#e4e4e4"},"value":"#000000"}}},
{"data":{"name":"bands"},"mark":{"type":"line","color":"#d4fafa","strokeWidth":1.1},"encoding":{"x":{"field":"i","type":"quantitative"},"y":{"field":"u","type":"quantitative"}}},
{"data":{"name":"bands"},"mark":{"type":"line","color":"#d4fafa","strokeWidth":1.1},"encoding":{"x":{"field":"i","type":"quantitative"},"y":{"field":"m","type":"quantitative"}}},
{"data":{"name":"bands"},"mark":{"type":"line","color":"#d4fafa","strokeWidth":1.1},"encoding":{"x":{"field":"i","type":"quantitative"},"y":{"field":"w","type":"quantitative"}}},
{"data":{"name":"trade"},"mark":{"type":"line","color":"#e01010","strokeWidth":1,"strokeDash":[3,5]},"encoding":{"x":{"field":"i","type":"quantitative"},"y":{"field":"p","type":"quantitative"}}},
{"data":{"name":"dash"},"mark":{"type":"rule","strokeWidth":1,"yOffset":0.5},"encoding":{"x":{"field":"a","type":"quantitative"},"x2":{"field":"b"},"y":{"field":"p","type":"quantitative"},"color":{"field":"k","type":"nominal","legend":null,"scale":{"domain":["sl","tp"],"range":["#e01010","#f08070"]}}}},
{"data":{"name":"open"},"mark":{"type":"point","shape":"triangle-right","filled":true,"color":"#ff0000","stroke":"#ffffff","strokeWidth":1,"size":60,"opacity":1},"encoding":{"x":{"field":"i","type":"quantitative"},"y":{"field":"p","type":"quantitative"}}},
{"data":{"name":"close"},"mark":{"type":"point","shape":"triangle-left","filled":true,"color":"#e0a020","size":50,"opacity":1},"encoding":{"x":{"field":"i","type":"quantitative"},"y":{"field":"p","type":"quantitative"}}},
{"data":{"name":"thin"},"mark":{"type":"rule","strokeWidth":1,"yOffset":0.5},"encoding":{"x":{"field":"a","type":"quantitative"},"x2":{"field":"b"},"y":{"field":"p","type":"quantitative"},"color":{"field":"k","type":"nominal","legend":null,"scale":{"domain":["DR","MR","DPV","DS"],"range":["#c00000","#5e5e14","#c4c4c4","#5040b0"]}}}},
{"data":{"name":"thick"},"mark":{"type":"rule","strokeWidth":2.5},"encoding":{"x":{"field":"a","type":"quantitative"},"x2":{"field":"b"},"y":{"field":"p","type":"quantitative"},"color":{"field":"k","type":"nominal","legend":null,"scale":{"domain":["H","L"],"range":["#ff0000","#0a70dc"]}}}},
{"data":{"name":"panel"},"mark":{"type":"rect","fill":"#1e1e1e"},"encoding":{"x":{"field":"a","type":"quantitative"},"x2":{"field":"b"},"y":{"field":"t","type":"quantitative"},"y2":{"field":"w"}}},
{"data":{"name":"tri"},"mark":{"type":"point","shape":"triangle-down","filled":true,"color":"#ffffff","size":30,"opacity":1},"encoding":{"x":{"field":"i","type":"quantitative"},"y":{"field":"p","type":"quantitative"}}},
{"data":{"name":"head"},"mark":{"type":"text","align":"left","baseline":"middle","font":"Liberation Sans","fontSize":14.2,"color":"#c0c8d8"},"encoding":{"x":{"field":"i","type":"quantitative"},"y":{"field":"p","type":"quantitative"},"text":{"field":"t"}}},
{"data":{"name":"info"},"mark":{"type":"text","align":"left","baseline":"middle","font":"Liberation Sans","fontSize":12,"color":"#a4a4a4"},"encoding":{"x":{"field":"i","type":"quantitative"},"y":{"field":"p","type":"quantitative"},"text":{"field":"t"}}},
{"data":{"name":"big"},"mark":{"type":"text","align":"left","baseline":"middle","font":"Liberation Sans","fontSize":23.5,"color":"#2db52d"},"encoding":{"x":{"field":"i","type":"quantitative"},"y":{"field":"p","type":"quantitative"},"text":{"field":"t"}}},
{"data":{"name":"sonicBig"},"mark":{"type":"text","align":"center","baseline":"middle","font":"Liberation Sans","fontSize":19},"encoding":{"x":{"field":"i","type":"quantitative"},"y":{"field":"p","type":"quantitative"},"text":{"field":"t"},"color":{"field":"k","type":"nominal","legend":null,"scale":{"domain":["s","r"],"range":["#1e90ff","#e01010"]}}}},
{"data":{"name":"sonicSmall"},"mark":{"type":"text","align":"center","baseline":"middle","font":"Liberation Sans","fontSize":12},"encoding":{"x":{"field":"i","type":"quantitative"},"y":{"field":"p","type":"quantitative"},"text":{"field":"t"},"color":{"field":"k","type":"nominal","legend":null,"scale":{"domain":["o","n","i","c"],"range":["#1c6fc0","#103a88","#8a1818","#a81010"]}}}},
{"data":{"name":"clocks"},"mark":{"type":"text","align":"left","baseline":"middle","font":"Liberation Sans","fontSize":10},"encoding":{"x":{"field":"i","type":"quantitative"},"y":{"field":"p","type":"quantitative"},"text":{"field":"t"},"color":{"field":"k","type":"nominal","legend":null,"scale":{"domain":["tg","to","cg","cn"],"range":["#6e6e6e","#a06020","#808080","#1c801c"]}}}},
{"data":{"name":"ea"},"mark":{"type":"text","align":"left","baseline":"middle","font":"Liberation Sans","fontSize":10,"color":"#e8e8e8"},"encoding":{"x":{"field":"i","type":"quantitative"},"y":{"field":"p","type":"quantitative"},"text":{"field":"t"}}},
{"data":{"name":"smile"},"mark":{"type":"text","align":"center","baseline":"middle","font":"DejaVu Sans","fontSize":13,"color":"#e8e8e8"},"encoding":{"x":{"field":"i","type":"quantitative"},"y":{"field":"p","type":"quantitative"},"text":{"field":"t"}}}
],
"resolve":{"scale":{"color":"independent"}}
},
{"width":1106,"height":71,
"layer":[
{"data":{"name":"sessions"},"mark":{"type":"rule","color":"#4d4d00","strokeDash":[3,3],"strokeWidth":1},"encoding":{"x":{"field":"i","type":"quantitative","scale":{"domain":[-0.375,276.125],"zero":false,"nice":false,"padding":0},"axis":{"values":[0,16,32,48,64,80,96,112,128,144,160,176,192,208,224,240,256,272],"labelExpr":"['1 Apr 2013','1 Apr 12:15','1 Apr 16:15','1 Apr 20:15','2 Apr 00:15','2 Apr 04:15','2 Apr 08:15','2 Apr 12:15','2 Apr 16:15','2 Apr 20:15','3 Apr 00:15','3 Apr 04:15','3 Apr 08:15','3 Apr 12:15','3 Apr 16:15','3 Apr 20:15','4 Apr 00:15','4 Apr 04:15'][round(datum.value/16)]","labelAlign":"left","labelBaseline":"middle","tickSize":3,"labelPadding":7,"labelOffset":-1.5,"labelOverlap":false,"labelBound":false,"labelFlush":false,"minExtent":17,"maxExtent":17}}}},
{"data":{"name":"bars"},"transform":[{"filter":"datum.d=='g'"}],"mark":{"type":"bar","size":1,"color":"#008000"},"encoding":{"x":{"field":"i","type":"quantitative"},"y":{"field":"v","type":"quantitative","scale":{"domain":[0,2528],"nice":false},"axis":{"orient":"right","values":[0,2316],"format":"d","tickSize":4,"labelPadding":0,"minExtent":38,"maxExtent":38,"labelOverlap":false,"labelBound":false,"labelOffset":{"condition":{"test":"datum.value==0","value":-7},"value":2}}}}},
{"data":{"name":"bars"},"transform":[{"filter":"datum.d=='r'"}],"mark":{"type":"bar","size":1,"color":"#ff0000"},"encoding":{"x":{"field":"i","type":"quantitative"},"y":{"field":"v","type":"quantitative"}}},
{"data":{"name":"volTitle"},"mark":{"type":"text","align":"left","baseline":"middle","font":"Liberation Sans","fontSize":9.5,"color":"#d0d8e0"},"encoding":{"x":{"field":"i","type":"quantitative"},"y":{"field":"v","type":"quantitative"},"text":{"field":"t"}}}
]
}
]
}
